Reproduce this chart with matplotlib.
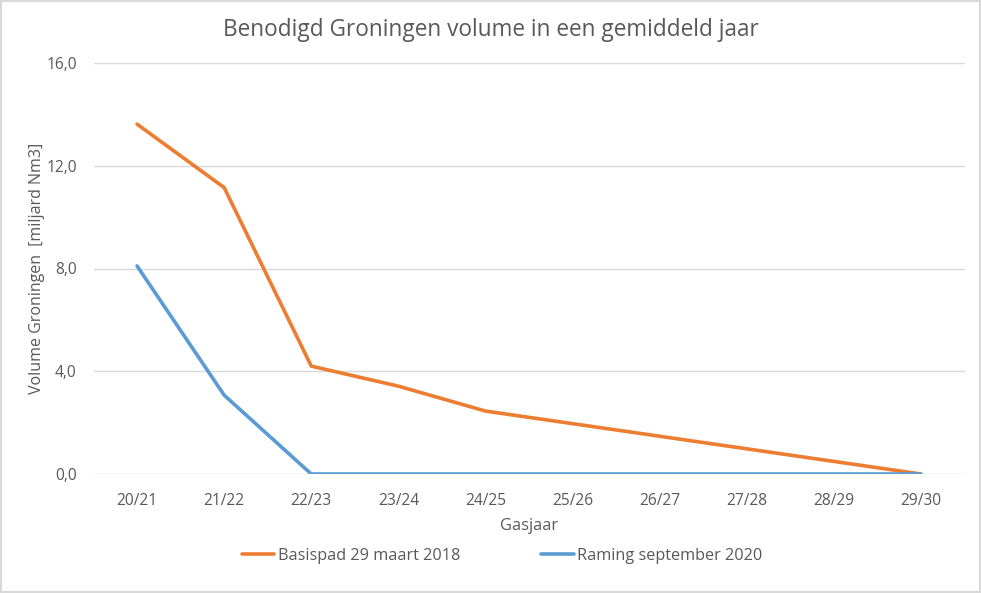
import matplotlib
matplotlib.use("Agg")
import matplotlib.pyplot as plt
from matplotlib.patches import Rectangle

categories = ["20/21", "21/22", "22/23", "23/24", "24/25", "25/26", "26/27", "27/28", "28/29", "29/30"]
basispad = [13.62, 11.15, 4.2, 3.42, 2.45, 1.96, 1.47, 0.98, 0.49, 0.0]
raming = [8.1, 3.07, 0.0, 0.0, 0.0, 0.0, 0.0, 0.0, 0.0, 0.0]
yticks = [0, 4, 8, 12, 16]

plt.rcParams['font.family'] = ['Open Sans', 'DejaVu Sans']
txt = '#595959'
fig = plt.figure(figsize=(9.81, 5.93), dpi=100)
ax = fig.add_axes([93.5/981, 1-474/593, (964.5-93.5)/981, (474-63)/593])

x = list(range(len(categories)))
ax.plot(x, basispad, color='#ED7D31', lw=2.6, label='Basispad 29 maart 2018', zorder=3, solid_capstyle='round')
ax.plot(x, raming, color='#5B9BD5', lw=2.6, label='Raming september 2020', zorder=4, solid_capstyle='round')

ax.set_xlim(-0.5, len(categories)-0.5)
ax.set_ylim(0, 16)
ax.set_yticks(yticks)
ax.set_yticklabels([f"{v:.1f}".replace('.', ',') for v in yticks])
ax.set_xticks(x)
ax.set_xticklabels(categories)
ax.tick_params(axis='both', length=0, labelsize=11.2, colors=txt)
ax.tick_params(axis='y', pad=12)
ax.tick_params(axis='x', pad=14)
ax.grid(axis='y', color='#D9D9D9', lw=1)
ax.set_axisbelow(True)
for s in ax.spines.values():
    s.set_visible(False)

ax.set_xlabel('Gasjaar', fontsize=11.8, color=txt, labelpad=6)
ax.set_ylabel('Volume Groningen  [miljard Nm3]', fontsize=11.5, color=txt, labelpad=1)
fig.text(0.5, 1-30/593, 'Benodigd Groningen volume in een gemiddeld jaar', ha='center', va='center',
         fontsize=16.3, color=txt)

leg = fig.legend(loc='center', bbox_to_anchor=(502/981, 1-556/593), ncol=2, frameon=False,
                 fontsize=11.7, handlelength=2.0, handletextpad=0.2, columnspacing=5.0)
for t in leg.get_texts():
    t.set_color(txt)

fig.patches.append(Rectangle((0, 0), 1, 1, transform=fig.transFigure, fill=False,
                             edgecolor='#D9D9D9', lw=3, zorder=10))
fig.savefig('out.png', dpi=100)
